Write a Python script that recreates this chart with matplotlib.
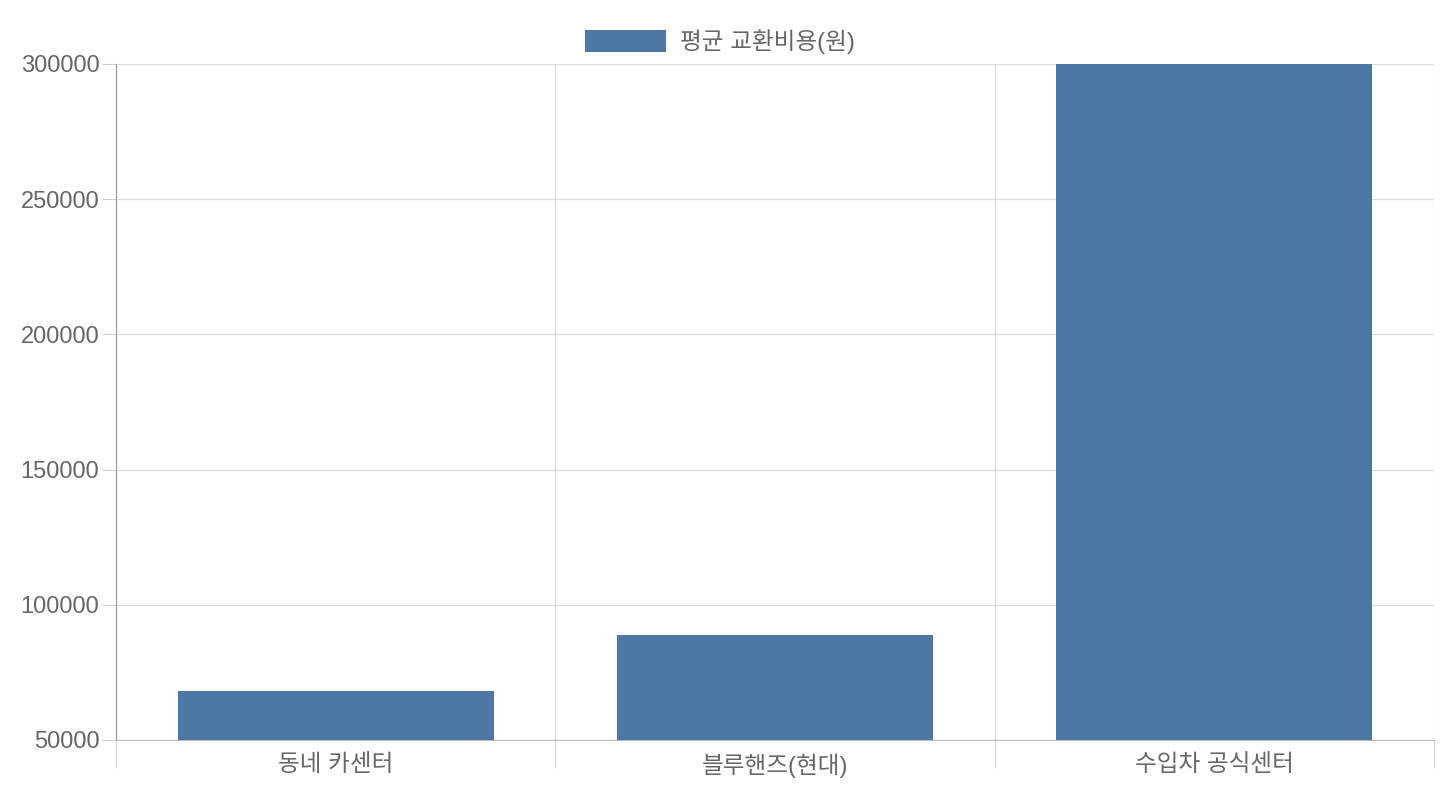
import matplotlib.pyplot as plt
import numpy as np

plt.rcParams['font.family'] = ['Liberation Sans', 'Noto Sans CJK KR']

categories = ["동네 카센터", "블루핸즈(현대)", "수입차 공식센터"]
costs = [68000, 89000, 300000]
series_label = "평균 교환비용(원)"
bar_color = "#4d78a6"
y_ticks = [50000, 100000, 150000, 200000, 250000, 300000]

fig = plt.figure(figsize=(14.4, 8), dpi=100)
ax = fig.add_axes([116 / 1440, 60 / 800, (1434 - 116) / 1440, (740 - 64) / 800])

x = np.arange(len(categories))
ax.bar(x, costs, width=0.72, color=bar_color, label=series_label, zorder=3)

ax.set_xlim(-0.5, len(categories) - 0.5)
ax.set_ylim(50000, 300000)
ax.set_yticks(y_ticks)
ax.set_yticklabels([str(v) for v in y_ticks])
ax.set_xticks(x)
ax.set_xticklabels(categories)

# category boundary grid lines like Chart.js
ax.set_xticks(np.arange(-0.5, len(categories)), minor=True)
ax.grid(axis="x", which="minor", color="#dddddd", lw=1, zorder=0)
ax.grid(axis="y", which="major", color="#dddddd", lw=1, zorder=0)
ax.tick_params(axis="x", which="major", length=0, pad=10, labelsize=17, labelcolor="#666666")
ax.tick_params(axis="x", which="minor", length=20, color="#cccccc")
ax.tick_params(axis="y", length=10, color="#cccccc", labelsize=17, labelcolor="#666666", pad=2)

for side in ["top", "right"]:
    ax.spines[side].set_visible(False)
ax.spines["left"].set_color("#999999")
ax.spines["bottom"].set_color("#bbbbbb")

leg = fig.legend(loc="upper center", bbox_to_anchor=(0.5, 0.99), frameon=False,
                 fontsize=17, handlelength=3.4, handleheight=1.0, handletextpad=0.6)
for t in leg.get_texts():
    t.set_color("#666666")

plt.savefig("out.png", dpi=100)
